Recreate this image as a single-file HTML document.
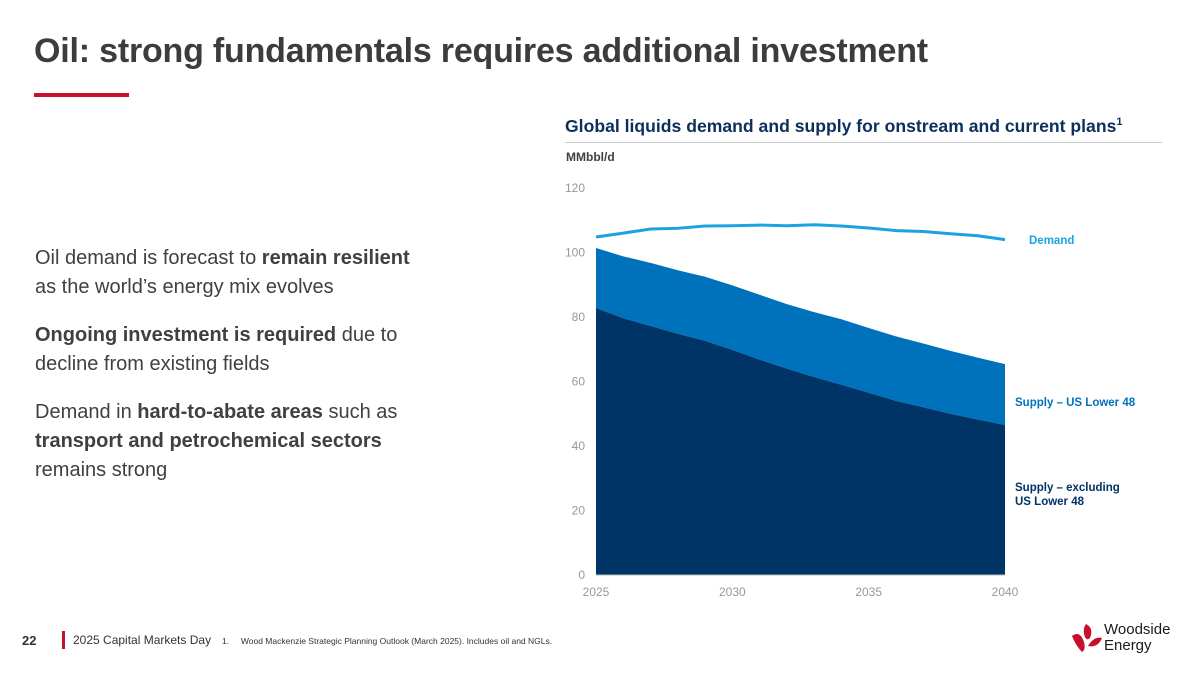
<!DOCTYPE html>
<html><head><meta charset="utf-8"><style>
body{margin:0;width:1200px;height:675px;background:#fff;font-family:"Liberation Sans",sans-serif;position:relative;overflow:hidden}
.a{position:absolute}
</style></head><body>
<div class="a" style="left:34px;top:32px;font-size:34px;font-weight:bold;color:#3c3c3c;letter-spacing:-0.2px">Oil: strong fundamentals requires additional investment</div>
<div class="a" style="left:34px;top:93px;width:95px;height:4px;background:#c8102e"></div>
<div class="a" style="left:35px;top:244px;font-size:20px;line-height:29px;color:#404040;width:385px">
<p style="margin:0 0 19px">Oil demand is forecast to <b>remain resilient</b> as the world’s energy mix evolves</p>
<p style="margin:0 0 19px"><b>Ongoing investment is required</b> due to decline from existing fields</p>
<p style="margin:0">Demand in <b>hard-to-abate areas</b> such as <b>transport and petrochemical sectors</b> remains strong</p></div>
<div class="a" style="left:565px;top:116px;font-size:17.6px;font-weight:bold;color:#0c2f5c;white-space:nowrap">Global liquids demand and supply for onstream and current plans<sup style="font-size:11px">1</sup></div>
<div class="a" style="left:565px;top:142px;width:597px;height:1px;background:#ccc"></div>
<div class="a" style="left:566px;top:150px;font-size:12px;font-weight:bold;color:#404040">MMbbl/d</div>
<svg class="a" style="left:0;top:0" width="1200" height="675" id="chart"></svg>
<div class="a" style="left:22px;top:633px;font-size:13px;font-weight:bold;color:#333">22</div>
<div class="a" style="left:62px;top:631px;width:3px;height:18px;background:#c8102e"></div>
<div class="a" style="left:73px;top:633px;font-size:12px;color:#333">2025 Capital Markets Day</div>
<div class="a" style="left:222px;top:636px;font-size:8.5px;color:#333">1.&nbsp;&nbsp;&nbsp;&nbsp;&nbsp;Wood Mackenzie Strategic Planning Outlook (March 2025). Includes oil and NGLs.</div>
<svg class="a" style="left:1068px;top:622px" width="36" height="32"><path d="M4 14 Q12 8 16 20 Q18 28 14 30 Q8 24 4 14Z M18 2 Q26 6 22 16 Q18 20 16 12 Q15 6 18 2Z M20 24 Q26 14 34 16 Q30 26 20 24Z" fill="#c8102e"/></svg>
<div class="a" style="left:1104px;top:622px;font-size:15px;line-height:16px;color:#1a1a1a">Woodside<br>Energy</div>
<script>
const years=[2025,2026,2027,2028,2029,2030,2031,2032,2033,2034,2035,2036,2037,2038,2039,2040];
const demand=[104.8,106,107.3,107.5,108.2,108.3,108.5,108.3,108.6,108.2,107.6,106.8,106.5,105.8,105.2,104];
const totalSupply=[101.4,98.8,96.8,94.5,92.5,89.8,86.9,84,81.5,79.3,76.6,74,71.8,69.5,67.4,65.4];
const supplyExUS=[82.8,79.6,77.2,74.8,72.6,69.8,66.8,64,61.4,59,56.5,54,52,50,48.2,46.5];
const yTicks=[0,20,40,60,80,100,120];
const xTicks=[2025,2030,2035,2040];
const svg=document.getElementById('chart');const NS='http://www.w3.org/2000/svg';
const X=v=>596+(v-2025)*(1005-596)/15;const Y=v=>575-v*(575-188)/120;
function mk(t,a){const e=document.createElementNS(NS,t);for(const k in a)e.setAttribute(k,a[k]);svg.appendChild(e);return e;}
yTicks.forEach(t=>{const e=mk('text',{x:585,y:Y(t)+4,'text-anchor':'end','font-size':12,fill:'#999','font-family':'Liberation Sans'});e.textContent=t;

});
xTicks.forEach(t=>{const e=mk('text',{x:X(t),y:596,'text-anchor':'middle','font-size':12,fill:'#999','font-family':'Liberation Sans'});e.textContent=t;

});
function area(top,bot){let d='M'+years.map((y,i)=>X(y)+','+Y(top[i])).join('L');for(let i=years.length-1;i>=0;i--)d+='L'+X(years[i])+','+Y(bot?bot[i]:0);return d+'Z';}
let e=mk('path',{d:area(totalSupply,supplyExUS),fill:'#0072bc'});


e=mk('path',{d:area(supplyExUS,null),fill:'#003366'});


e=mk('line',{x1:596,x2:1005,y1:575,y2:575,stroke:'#bbb'});


e=mk('path',{d:'M'+years.map((y,i)=>X(y)+','+Y(demand[i])).join('L'),fill:'none',stroke:'#1aa3e0','stroke-width':3});


const labels=[['Demand',1029,244,'#1aa3e0','legend-demand'],['Supply – US Lower 48',1015,406,'#0072bc','legend-supply-us-lower-48'],['Supply – excluding',1015,491,'#003366','legend-supply-excluding'],['US Lower 48',1015,505,'#003366','legend-supply-excluding-line2']];
labels.forEach(l=>{const t=mk('text',{x:l[1],y:l[2],'font-size':11.5,'font-weight':'bold',fill:l[3],'font-family':'Liberation Sans'});t.textContent=l[0];

});
</script>
</body></html>
